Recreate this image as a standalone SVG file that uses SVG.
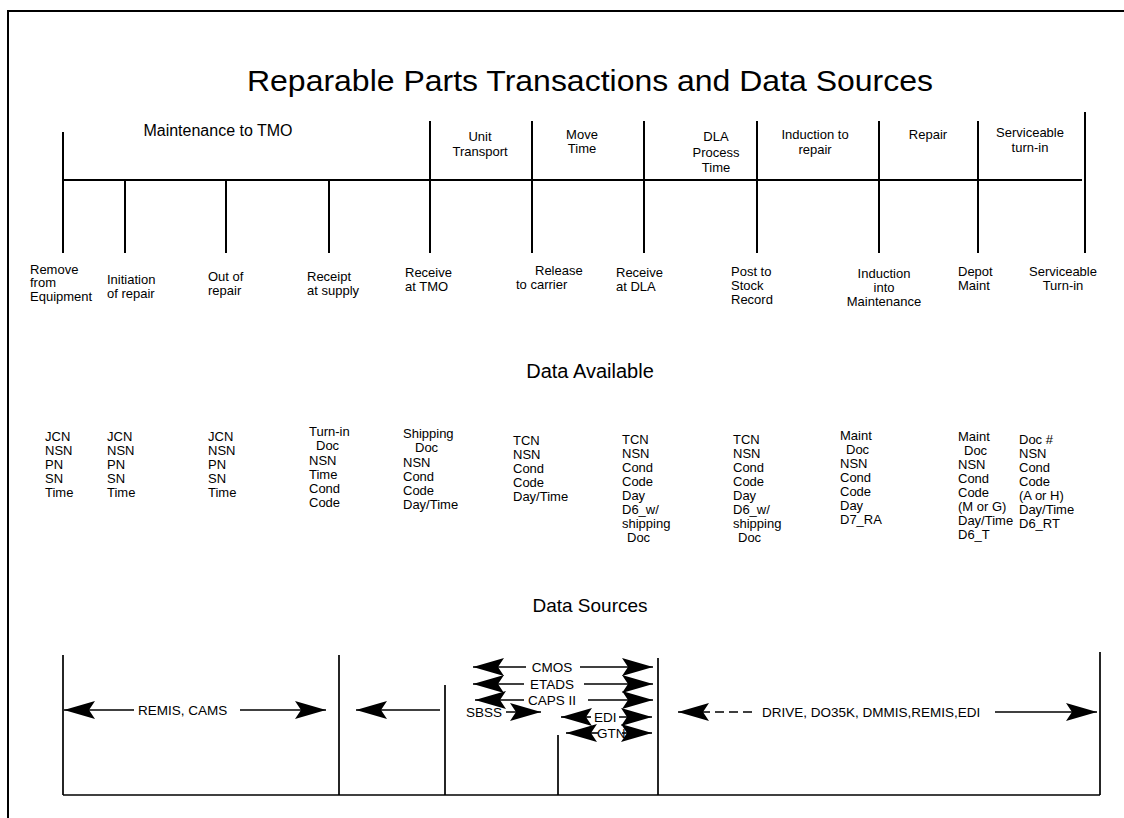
<svg xmlns="http://www.w3.org/2000/svg" width="1124" height="818" viewBox="0 0 1124 818">
<defs>
<style>
text{font-family:"Liberation Sans",Arial,Helvetica,sans-serif;fill:#000}
.t{font-size:29px}
.h{font-size:19px}
.h2{font-size:20px}
.s{font-size:16px}
.l{font-size:13px}
.d{font-size:13px}
.b{font-size:13.5px}
.m{text-anchor:middle}
.ln{stroke:#000;stroke-width:2;fill:none}
.th{stroke:#000;stroke-width:1.7;fill:none}
.ar{stroke:#000;stroke-width:1.6;fill:none;marker-end:url(#ah)}
.dash{stroke-dasharray:9,5}
</style>
<marker id="ah" markerUnits="userSpaceOnUse" markerWidth="32" markerHeight="20" refX="31" refY="10" orient="auto">
<path d="M0,1 L31,10 L0,19 L6,10 z" fill="#000"/>
</marker>
</defs>
<rect width="1124" height="818" fill="#fff"/>
<g id="frame" class="ln">
<path d="M8,818 V11 H1124"/>
</g>
<g id="title"><text class="t" x="247" y="91" textLength="686" lengthAdjust="spacingAndGlyphs">Reparable Parts Transactions and Data Sources</text></g>

<g id="timeline" class="ln">
<path d="M63,132 V253 M430,121 V253 M532,121 V253 M644,121 V253 M757,121 V253 M879,121 V253 M978,121 V253 M1085,112 V253"/>
<path d="M63,180 H1082"/>
<path d="M125,180 V253 M226,180 V253 M329,180 V253"/>
</g>

<g id="phases">
<text class="s m" x="218" y="136">Maintenance to TMO</text>
<text class="l m" x="480" y="141">Unit</text><text class="l m" x="480" y="156">Transport</text>
<text class="l m" x="582" y="139">Move</text><text class="l m" x="582" y="153">Time</text>
<text class="l m" x="716" y="141">DLA</text><text class="l m" x="716" y="157">Process</text><text class="l m" x="716" y="172">Time</text>
<text class="l m" x="815" y="139">Induction to</text><text class="l m" x="815" y="154">repair</text>
<text class="l m" x="928" y="139">Repair</text>
<text class="l m" x="1030" y="137">Serviceable</text><text class="l m" x="1030" y="152">turn-in</text>
</g>

<g id="events" class="l">
<text x="30" y="274">Remove</text><text x="30" y="287">from</text><text x="30" y="301">Equipment</text>
<text x="107" y="284">Initiation</text><text x="107" y="298">of repair</text>
<text x="208" y="281">Out of</text><text x="208" y="295">repair</text>
<text x="307" y="281">Receipt</text><text x="307" y="295">at supply</text>
<text x="405" y="277">Receive</text><text x="405" y="291">at TMO</text>
<text x="535" y="275">Release</text><text x="516" y="289">to carrier</text>
<text x="616" y="277">Receive</text><text x="616" y="291">at DLA</text>
<text x="731" y="276">Post to</text><text x="731" y="290">Stock</text><text x="731" y="304">Record</text>
<text class="m" x="884" y="278">Induction</text><text class="m" x="884" y="292">into</text><text class="m" x="884" y="306">Maintenance</text>
<text x="958" y="276">Depot</text><text x="958" y="290">Maint</text>
<text class="m" x="1063" y="276">Serviceable</text><text class="m" x="1063" y="290">Turn-in</text>
</g>

<g id="data-available-heading"><text class="h2 m" x="590" y="378">Data Available</text></g>

<g id="data" class="d">
<text x="45" y="441">JCN</text><text x="45" y="455">NSN</text><text x="45" y="469">PN</text><text x="45" y="483">SN</text><text x="45" y="497">Time</text>
<text x="107" y="441">JCN</text><text x="107" y="455">NSN</text><text x="107" y="469">PN</text><text x="107" y="483">SN</text><text x="107" y="497">Time</text>
<text x="208" y="441">JCN</text><text x="208" y="455">NSN</text><text x="208" y="469">PN</text><text x="208" y="483">SN</text><text x="208" y="497">Time</text>
<text x="309" y="436">Turn-in</text><text x="316" y="450">Doc</text><text x="309" y="465">NSN</text><text x="309" y="479">Time</text><text x="309" y="493">Cond</text><text x="309" y="507">Code</text>
<text x="403" y="438">Shipping</text><text x="415" y="452">Doc</text><text x="403" y="467">NSN</text><text x="403" y="481">Cond</text><text x="403" y="495">Code</text><text x="403" y="509">Day/Time</text>
<text x="513" y="445">TCN</text><text x="513" y="459">NSN</text><text x="513" y="473">Cond</text><text x="513" y="487">Code</text><text x="513" y="501">Day/Time</text>
<text x="622" y="444">TCN</text><text x="622" y="458">NSN</text><text x="622" y="472">Cond</text><text x="622" y="486">Code</text><text x="622" y="500">Day</text><text x="622" y="514">D6_w/</text><text x="622" y="528">shipping</text><text x="627" y="542">Doc</text>
<text x="733" y="444">TCN</text><text x="733" y="458">NSN</text><text x="733" y="472">Cond</text><text x="733" y="486">Code</text><text x="733" y="500">Day</text><text x="733" y="514">D6_w/</text><text x="733" y="528">shipping</text><text x="738" y="542">Doc</text>
<text x="840" y="440">Maint</text><text x="846" y="454">Doc</text><text x="840" y="468">NSN</text><text x="840" y="482">Cond</text><text x="840" y="496">Code</text><text x="840" y="510">Day</text><text x="840" y="524">D7_RA</text>
<text x="958" y="441">Maint</text><text x="964" y="455">Doc</text><text x="958" y="469">NSN</text><text x="958" y="483">Cond</text><text x="958" y="497">Code</text><text x="958" y="511">(M or G)</text><text x="958" y="525">Day/Time</text><text x="958" y="539">D6_T</text>
<text x="1019" y="444">Doc #</text><text x="1019" y="458">NSN</text><text x="1019" y="472">Cond</text><text x="1019" y="486">Code</text><text x="1019" y="500">(A or H)</text><text x="1019" y="514">Day/Time</text><text x="1019" y="528">D6_RT</text>
</g>

<g id="data-sources-heading"><text class="h m" x="590" y="612">Data Sources</text></g>

<g id="sources-frame" class="th">
<path d="M63,655 V795 M339,655 V795 M445,685 V795 M558,735 V795 M658,658 V795 M1100,652 V795"/>
<path d="M63,795 H1100"/>
</g>

<g id="source-labels" class="b">
<text x="138" y="715">REMIS, CAMS</text>
<text class="m" x="552" y="672">CMOS</text>
<text class="m" x="552" y="689">ETADS</text>
<text class="m" x="552" y="705">CAPS II</text>
<text x="466" y="717">SBSS</text>
<text x="594" y="722">EDI</text>
<text x="597" y="738">GTN</text>
<text x="762" y="717">DRIVE, DO35K, DMMIS,REMIS,EDI</text>
</g>

<g id="connectors">
<path class="ar" d="M134,710 H64"/>
<path class="ar" d="M240,710 H326"/>
<path class="ar" d="M440,710 H356"/>
<path class="ar" d="M526,667 H473"/>
<path class="ar" d="M580,667 H653"/>
<path class="ar" d="M524,684 H473"/>
<path class="ar" d="M584,684 H653"/>
<path class="ar" d="M524,700 H475"/>
<path class="ar" d="M588,700 H653"/>
<path class="ar" d="M506,712 H541"/>
<path class="ar" d="M591,717 H561"/>
<path class="ar" d="M619,717 H652"/>
<path class="ar" d="M598,733 H566"/>
<path class="ar" d="M622,733 H652"/>
<path class="ar dash" d="M752,712 H678"/>
<path class="ar" d="M995,712 H1097"/>
</g>
</svg>
